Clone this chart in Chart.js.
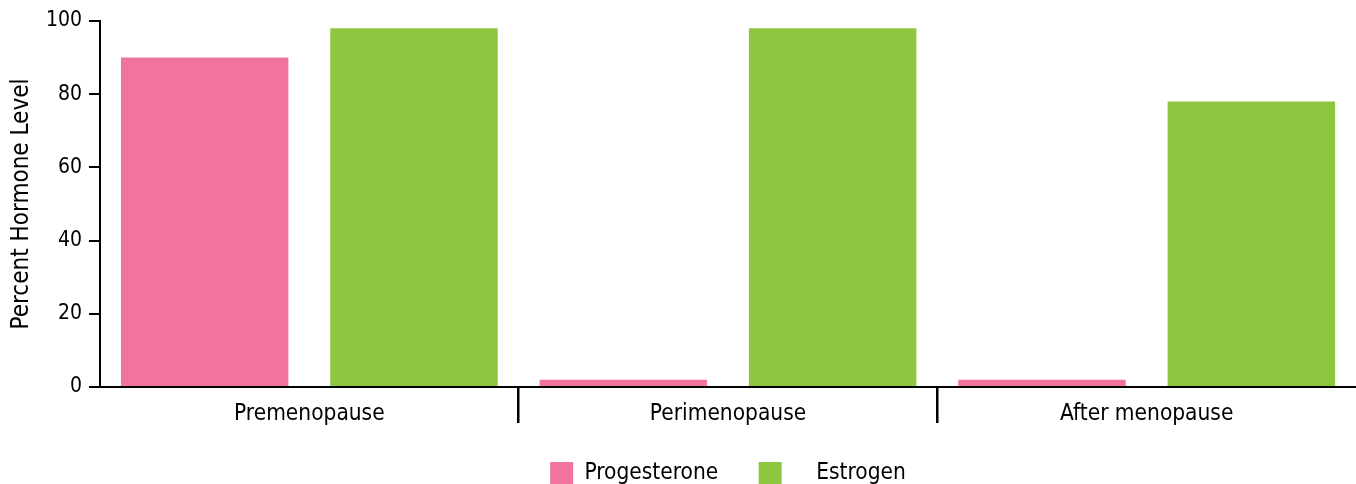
<!DOCTYPE html>
<html>
<head>
<meta charset="utf-8">
<title>Hormone levels through menopause</title>
<script src="https://cdn.jsdelivr.net/npm/chart.js@4.4.1/dist/chart.umd.min.js"></script>
<style>
  html, body { margin: 0; padding: 0; background: #ffffff; overflow: hidden; }
  #wrap { position: relative; width: 1356px; height: 484px; overflow: hidden; }
  #chart { display: block; }
</style>
</head>
<body>
<div id="wrap"><canvas id="chart" width="1356" height="495"></canvas></div>
<script>
// Stages of the menopause transition
const stages = ['Premenopause', 'Perimenopause', 'After menopause'];

// Relative hormone levels (percent)
const progesterone = [90, 2, 2];
const estrogen = [98, 98, 78];

// Value axis ticks
const yTicks = [0, 20, 40, 60, 80, 100];

// Series names shown in the legend
const seriesNames = ['Progesterone', 'Estrogen'];

const PINK = '#F174A0';
const GREEN = '#8DC63F';
const INK = '#000000';
const FONT = "'DejaVu Sans Condensed', 'Liberation Sans Narrow', sans-serif";

// legend entries get a little extra room so both keys sit on an even pitch
const legendText = (label, i) => (i === 1 ? '   \u2009' + label : label + ' \u2009');

new Chart(document.getElementById('chart'), {
  type: 'bar',
  data: {
    labels: stages,
    datasets: [
      { label: seriesNames[0], data: progesterone, backgroundColor: PINK },
      { label: seriesNames[1], data: estrogen, backgroundColor: GREEN }
    ]
  },
  options: {
    responsive: false,
    animation: false,
    events: [],
    datasets: {
      bar: { categoryPercentage: 1.0, barPercentage: 0.8 }
    },
    layout: { padding: { top: 21, right: 0, bottom: 0, left: 0 } },
    scales: {
      x: {
        offset: true,
        grid: {
          offset: true,
          drawOnChartArea: false,
          drawTicks: true,
          tickLength: 36,
          lineWidth: 2.5,
          // only the dividers between neighbouring stages are shown
          color: (ctx) => (ctx.type === 'tick' && ctx.index > 0) ? INK : 'rgba(0,0,0,0)'
        },
        border: { display: true, color: INK, width: 2, z: 1 },
        ticks: {
          color: INK,
          font: { family: FONT, size: 22.5 },
          padding: -22,
          maxRotation: 0,
          autoSkip: false
        },
        afterFit: (scale) => { scale.height = 45; }
      },
      y: {
        min: 0,
        max: 100,
        afterBuildTicks: (scale) => { scale.ticks = yTicks.map(v => ({ value: v })); },
        grid: {
          drawOnChartArea: false,
          drawTicks: true,
          tickLength: 11,
          lineWidth: 2,
          color: INK
        },
        border: { display: true, color: INK, width: 2, z: 1 },
        ticks: {
          color: INK,
          font: { family: FONT, size: 21, lineHeight: 1 },
          padding: 7
        },
        title: {
          display: true,
          text: 'Percent Hormone Level',
          color: INK,
          font: { family: FONT, size: 24 },
          padding: { top: 7, bottom: 0 }
        },
        afterFit: (scale) => { scale.width = 100; }
      }
    },
    plugins: {
      tooltip: { enabled: false },
      title: { display: false },
      legend: {
        display: true,
        position: 'bottom',
        fullSize: false,
        labels: {
          color: INK,
          font: { family: FONT, size: 22.5 },
          boxWidth: 23,
          boxHeight: 23,
          padding: 30,
          generateLabels: (chart) => chart.data.datasets.map((ds, i) => ({
            text: legendText(ds.label, i),
            fillStyle: ds.backgroundColor,
            strokeStyle: ds.backgroundColor,
            lineWidth: 0,
            hidden: false,
            datasetIndex: i,
            fontColor: INK
          }))
        }
      }
    }
  }
});
</script>
</body>
</html>
